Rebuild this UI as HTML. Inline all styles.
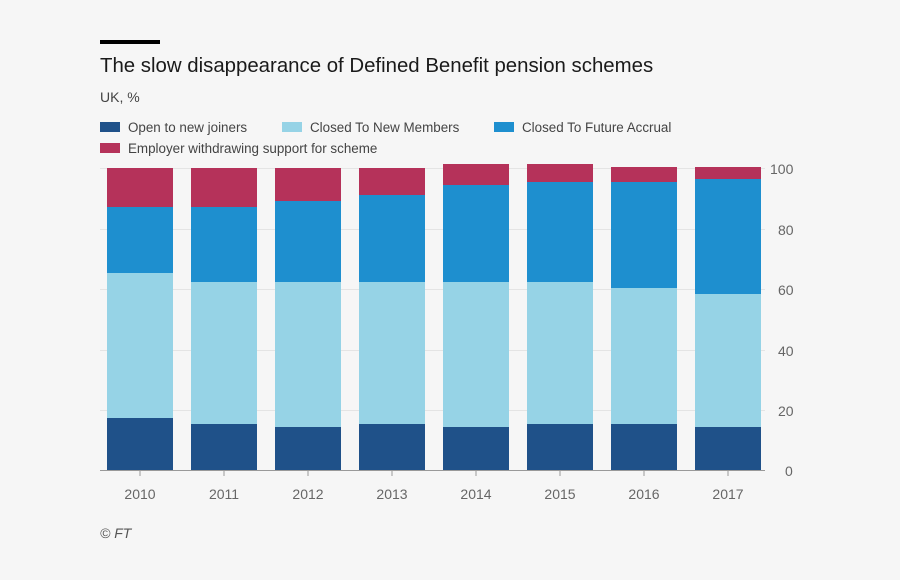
<!DOCTYPE html>
<html><head><meta charset="utf-8"><style>
body{margin:0;background:#f6f6f6;}
svg{display:block;font-family:"Liberation Sans",sans-serif;}
</style></head><body>
<svg width="900" height="580" viewBox="0 0 900 580">
<rect width="900" height="580" fill="#f6f6f6"/>
<rect x="100" y="40" width="60" height="4" fill="#000"/>
<text x="100" y="72" font-size="20.4" fill="#1a1a1a">The slow disappearance of Defined Benefit pension schemes</text>
<text x="100" y="102" font-size="14" fill="#444">UK, %</text>
<g font-size="13.4" fill="#444">
<rect x="100" y="122" width="20" height="10" fill="#1f5189"/><text x="128" y="132">Open to new joiners</text>
<rect x="282" y="122" width="20" height="10" fill="#96d3e6"/><text x="310" y="132">Closed To New Members</text>
<rect x="494" y="122" width="20" height="10" fill="#1e8fcf"/><text x="522" y="132">Closed To Future Accrual</text>
<rect x="100" y="143" width="20" height="10" fill="#b5325a"/><text x="128" y="153">Employer withdrawing support for scheme</text>
</g>
<g stroke="#e4e4e4" stroke-width="1">
<line x1="100" x2="765" y1="168.5" y2="168.5"/><line x1="100" x2="765" y1="229.5" y2="229.5"/>
<line x1="100" x2="765" y1="289.5" y2="289.5"/><line x1="100" x2="765" y1="350.5" y2="350.5"/>
<line x1="100" x2="765" y1="410.5" y2="410.5"/>
</g>
<g font-size="14" fill="#666">
<text x="770" y="174">100</text><text x="778" y="235">80</text><text x="778" y="295">60</text>
<text x="778" y="356">40</text><text x="778" y="416">20</text><text x="785" y="476">0</text>
</g>
<g>
<rect x="107" y="418" width="66" height="52" fill="#1f5189"/><rect x="107" y="273" width="66" height="145" fill="#96d3e6"/><rect x="107" y="207" width="66" height="66" fill="#1e8fcf"/><rect x="107" y="168" width="66" height="39" fill="#b5325a"/>
<rect x="191" y="424" width="66" height="46" fill="#1f5189"/><rect x="191" y="282" width="66" height="142" fill="#96d3e6"/><rect x="191" y="207" width="66" height="75" fill="#1e8fcf"/><rect x="191" y="168" width="66" height="39" fill="#b5325a"/>
<rect x="275" y="427" width="66" height="43" fill="#1f5189"/><rect x="275" y="282" width="66" height="145" fill="#96d3e6"/><rect x="275" y="201" width="66" height="81" fill="#1e8fcf"/><rect x="275" y="168" width="66" height="33" fill="#b5325a"/>
<rect x="359" y="424" width="66" height="46" fill="#1f5189"/><rect x="359" y="282" width="66" height="142" fill="#96d3e6"/><rect x="359" y="195" width="66" height="87" fill="#1e8fcf"/><rect x="359" y="168" width="66" height="27" fill="#b5325a"/>
<rect x="443" y="427" width="66" height="43" fill="#1f5189"/><rect x="443" y="282" width="66" height="145" fill="#96d3e6"/><rect x="443" y="185" width="66" height="97" fill="#1e8fcf"/><rect x="443" y="164" width="66" height="21" fill="#b5325a"/>
<rect x="527" y="424" width="66" height="46" fill="#1f5189"/><rect x="527" y="282" width="66" height="142" fill="#96d3e6"/><rect x="527" y="182" width="66" height="100" fill="#1e8fcf"/><rect x="527" y="164" width="66" height="18" fill="#b5325a"/>
<rect x="611" y="424" width="66" height="46" fill="#1f5189"/><rect x="611" y="288" width="66" height="136" fill="#96d3e6"/><rect x="611" y="182" width="66" height="106" fill="#1e8fcf"/><rect x="611" y="167" width="66" height="15" fill="#b5325a"/>
<rect x="695" y="427" width="66" height="43" fill="#1f5189"/><rect x="695" y="294" width="66" height="133" fill="#96d3e6"/><rect x="695" y="179" width="66" height="115" fill="#1e8fcf"/><rect x="695" y="167" width="66" height="12" fill="#b5325a"/>
</g>
<g font-size="14" fill="#666" text-anchor="middle">
<text x="140" y="499">2010</text><text x="224" y="499">2011</text><text x="308" y="499">2012</text><text x="392" y="499">2013</text>
<text x="476" y="499">2014</text><text x="560" y="499">2015</text><text x="644" y="499">2016</text><text x="728" y="499">2017</text>
</g>
<line x1="100" x2="765" y1="470.5" y2="470.5" stroke="#999"/>
<g stroke="#999"><line x1="140" x2="140" y1="470" y2="476"/><line x1="224" x2="224" y1="470" y2="476"/><line x1="308" x2="308" y1="470" y2="476"/><line x1="392" x2="392" y1="470" y2="476"/><line x1="476" x2="476" y1="470" y2="476"/><line x1="560" x2="560" y1="470" y2="476"/><line x1="644" x2="644" y1="470" y2="476"/><line x1="728" x2="728" y1="470" y2="476"/></g>
<text x="100" y="538" font-size="14" fill="#555" font-style="italic">© FT</text>
</svg>
</body></html>
